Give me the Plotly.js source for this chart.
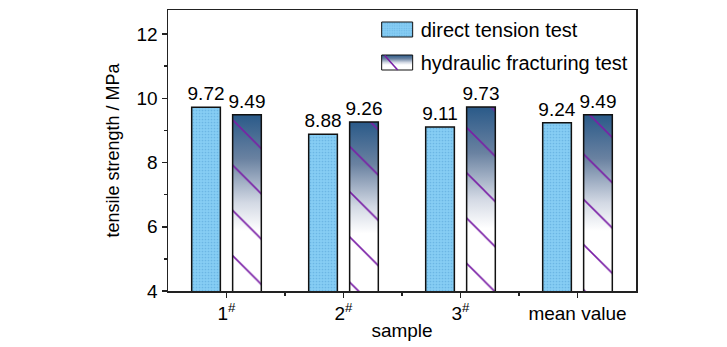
<!DOCTYPE html>
<html>
<head>
<meta charset="utf-8">
<script src="https://cdn.plot.ly/plotly-3.0.1.min.js"></script>
<style>html,body{margin:0;padding:0;background:#fff;}#chart{width:727px;height:347px;}</style>
</head>
<body>
<div id="chart"></div>
<script>
const categories = ['1<sup>#</sup>', '2<sup>#</sup>', '3<sup>#</sup>', 'mean value'];
const directTension = [9.72, 8.88, 9.11, 9.24];
const hydraulicFracturing = [9.49, 9.26, 9.73, 9.49];
const seriesNames = ['direct tension test', 'hydraulic fracturing test'];

const FONT = 'Liberation Sans, Arial, sans-serif';
const idx = categories.map((c, i) => i);

const traces = [
  {
    type: 'bar', name: seriesNames[0], x: idx, y: directTension, legendgroup: 'a',
    text: directTension.map(v => v.toFixed(2)), textposition: 'outside',
    textfont: {family: FONT, size: 19, color: '#000'},
    cliponaxis: false, constraintext: 'none',
    marker: {color: '#82caf2', line: {color: '#111', width: 1.5},
      pattern: {shape: '.', fgcolor: '#6cb6e4', bgcolor: '#86cdf4', size: 3, solidity: 0.25}}
  },
  {
    type: 'bar', name: seriesNames[1], x: idx, y: hydraulicFracturing, legendgroup: 'b',
    text: hydraulicFracturing.map(v => v.toFixed(2)), textposition: 'outside',
    textfont: {family: FONT, size: 19, color: '#000'},
    cliponaxis: false, constraintext: 'none',
    marker: {color: 'rgba(0,0,0,0)', line: {color: '#111', width: 1.5},
      pattern: {shape: '\\', fgcolor: '#7a1fa6', bgcolor: 'rgba(0,0,0,0)', size: 32, solidity: 0.05, fillmode: 'replace'}}
  }
];

const axisCommon = {
  showline: true, linecolor: '#222', linewidth: 1.5, mirror: true,
  ticks: 'outside', ticklen: 5, tickwidth: 1.5, tickcolor: '#222',
  showgrid: false, zeroline: false,
  tickfont: {family: FONT, size: 19, color: '#000'}
};

const layout = {
  width: 727, height: 347,
  margin: {l: 168, r: 91, t: 10, b: 56},
  paper_bgcolor: '#fff', plot_bgcolor: '#fff',
  barmode: 'group', bargap: 0.3, bargroupgap: 0.3,
  showlegend: true,
  legend: {x: 0.995, xanchor: 'right', y: 1.0, yanchor: 'top', bgcolor: 'rgba(0,0,0,0)',
    font: {family: FONT, size: 20, color: '#000'}, tracegroupgap: 4},
  xaxis: Object.assign({}, axisCommon, {
    range: [-0.5, 3.5], tickmode: 'array', tickvals: idx, ticktext: categories,
    minor: {tickmode: 'array', tickvals: [0.5, 1.5, 2.5], ticks: 'outside', ticklen: 3, tickwidth: 1.5, tickcolor: '#222'},
    title: {text: 'sample', font: {family: FONT, size: 19, color: '#000'}, standoff: 0}
  }),
  yaxis: Object.assign({}, axisCommon, {
    range: [4, 12.75], tick0: 4, dtick: 2, ticklabelstandoff: 0,
    minor: {dtick: 1, ticks: 'outside', ticklen: 3, tickwidth: 1.5, tickcolor: '#222'},
    title: {text: 'tensile strength / MPa', font: {family: FONT, size: 18, color: '#000'}, standoff: 12}
  })
};

const ns = 'http://www.w3.org/2000/svg';
const STOPS = [[0, '#2a5a89'], [0.25, '#6a82a1'], [0.5, '#d3d9e4'], [0.66, '#ffffff'], [1, '#ffffff']];

function makeGradient(defs, id, userSpace, y1, y2) {
  const old = defs.querySelector('#' + id);
  if (old) old.remove();
  const lg = document.createElementNS(ns, 'linearGradient');
  lg.setAttribute('id', id);
  if (userSpace) {
    lg.setAttribute('gradientUnits', 'userSpaceOnUse');
    lg.setAttribute('x1', '0'); lg.setAttribute('x2', '0');
    lg.setAttribute('y1', String(y1)); lg.setAttribute('y2', String(y2));
  } else {
    lg.setAttribute('x1', '0'); lg.setAttribute('y1', '0');
    lg.setAttribute('x2', '0'); lg.setAttribute('y2', '1');
  }
  STOPS.forEach(s => {
    const st = document.createElementNS(ns, 'stop');
    st.setAttribute('offset', String(s[0])); st.setAttribute('stop-color', s[1]);
    lg.appendChild(st);
  });
  defs.appendChild(lg);
}

function makeClone(p, gid) {
  const c = document.createElementNS(ns, 'path');
  c.setAttribute('d', p.getAttribute('d'));
  c.setAttribute('class', 'gradclone');
  c.setAttribute('style', 'fill:url(#' + gid + ');stroke:none;');
  return c;
}

function decorate(gd) {
  const svg = gd.querySelector('svg.main-svg');
  const defs = svg.querySelector('defs');
  const plotH = gd._fullLayout._size.h;
  gd.querySelectorAll('.gradclone').forEach(e => e.remove());
  const bartraces = gd.querySelectorAll('.barlayer .trace');
  if (bartraces[1]) {
    bartraces[1].querySelectorAll('g.point > path').forEach((p, k) => {
      const bb = p.getBBox();
      const gid = 'hgrad' + k;
      makeGradient(defs, gid, true, bb.y, Math.min(plotH, bb.y + bb.height));
      p.parentNode.insertBefore(makeClone(p, gid), p);
    });
  }
  makeGradient(defs, 'hgradleg', false);
  const legTraces = gd.querySelectorAll('.legend .traces');
  legTraces.forEach((t, i) => {
    const paths = Array.from(t.querySelectorAll('.legendpoints path'));
    paths.forEach(p => {
      p.setAttribute('d', 'M-19,-7.5H12V7.5H-19Z');
      p.style.strokeWidth = '1px';
      if (i === 1) p.style.fill = 'url(#hgradleg)';
    });
    if (i === 1 && paths.length) {
      const last = paths[paths.length - 1];
      const ln = document.createElementNS(ns, 'path');
      ln.setAttribute('class', 'gradclone');
      ln.setAttribute('d', 'M-16,-7L-3,7.5');
      ln.setAttribute('fill', 'none');
      ln.setAttribute('stroke', '#7a1fa6');
      ln.setAttribute('stroke-width', '1.6');
      if (last.getAttribute('transform')) ln.setAttribute('transform', last.getAttribute('transform'));
      last.parentNode.appendChild(ln);
    }
  });
}

const gd = document.getElementById('chart');
Plotly.newPlot(gd, traces, layout, {displayModeBar: false, staticPlot: true}).then(() => {
  decorate(gd);
});
</script>
</body>
</html>
